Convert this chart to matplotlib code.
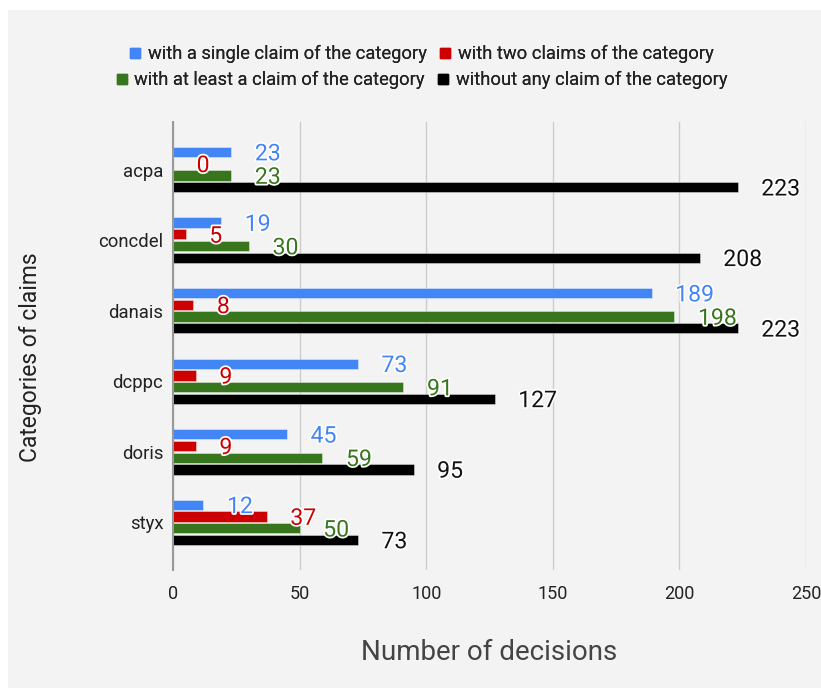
import matplotlib

matplotlib.use("Agg")
import matplotlib.pyplot as plt
import matplotlib.patheffects as pe
import numpy as np
from matplotlib.lines import Line2D
from matplotlib.patches import Rectangle

categories = ["acpa", "concdel", "danais", "dcppc", "doris", "styx"]
single_claim = [23, 19, 189, 73, 45, 12]
two_claims = [0, 5, 8, 9, 9, 37]
at_least_one = [23, 30, 198, 91, 59, 50]
without_claim = [223, 208, 223, 127, 95, 73]
series_names = [
    "with a single claim of the category",
    "with two claims of the category",
    "with at least a claim of the category",
    "without any claim of the category",
]
x_ticks = [0, 50, 100, 150, 200, 250]

BG = "#f3f3f3"
BAR_COLORS = ["#4285f4", "#cc0000", "#38761d", "#000000"]
LABEL_COLORS = ["#4285f4", "#cc0000", "#38761d", "#111111"]

plt.rcParams["font.family"] = ["Roboto", "DejaVu Sans"]

W, H = 821, 690
fig = plt.figure(figsize=(W / 100, H / 100), dpi=100, facecolor="white")
fig.patches.append(
    Rectangle((8 / W, 1 - 688 / H), 1 - 8 / W, (688 - 10) / H,
              transform=fig.transFigure, facecolor=BG, edgecolor="none", zorder=-5)
)

ax = fig.add_axes([173 / W, 1 - 570 / H, (806 - 173) / W, 448 / H])
ax.set_facecolor(BG)

series = [single_claim, two_claims, at_least_one, without_claim]
y = np.arange(len(categories))
step = 0.166
offsets = [-1.5 * step, -0.5 * step, 0.5 * step, 1.5 * step]
bar_h = 0.145

for vals, off, bc, lc in zip(series, offsets, BAR_COLORS, LABEL_COLORS):
    ax.barh(y + off, vals, height=bar_h, color=bc,
            edgecolor=(1, 1, 1, 0.45), linewidth=0.6, zorder=3)
    for yi, v in zip(y, vals):
        ax.annotate(str(v), (v, yi + off), xytext=(17, -1.3), textcoords="offset points",
                    ha="left", va="center", fontsize=16.6, color=lc, zorder=5,
                    path_effects=[pe.withStroke(linewidth=2.5, foreground="white")])

ax.set_xlim(0, 250)
ax.set_ylim(5.675, -0.675)
ax.set_xticks(x_ticks)
ax.set_yticks(y)
ax.set_yticklabels(categories)
ax.tick_params(axis="x", length=0, pad=11, labelsize=13, labelcolor="#222222")
ax.tick_params(axis="y", length=0, pad=7, labelsize=13.3, labelcolor="#222222")
ax.grid(axis="x", color="#cccccc", linewidth=1, zorder=0)
ax.set_axisbelow(True)
for side in ["top", "right", "bottom"]:
    ax.spines[side].set_visible(False)
ax.spines["left"].set_color("#999999")
ax.spines["left"].set_linewidth(1.5)
ax.spines["left"].set_zorder(4)

fig.text(489 / W, 1 - 653 / H, "Number of decisions", ha="center", va="center",
         fontsize=20, color="#444444")
fig.text(30 / W, 1 - 357 / H, "Categories of claims", ha="center", va="center",
         rotation=90, fontsize=16.5, color="#222222")

# two centred legend rows
handles = [Line2D([], [], linestyle="none", marker="s", markersize=7,
                  markerfacecolor=c, markeredgecolor=c) for c in BAR_COLORS]
rows = [([0, 1], 54), ([2, 3], 80)]
for idx, ypx in rows:
    leg = fig.legend([handles[i] for i in idx], [series_names[i] for i in idx],
                     loc="center", bbox_to_anchor=(422 / W, 1 - ypx / H), ncol=2,
                     frameon=False, fontsize=13.2, handlelength=0.6, handletextpad=0.4,
                     columnspacing=0.7, borderpad=0, labelcolor="#222222")
    fig.add_artist(leg)

fig.savefig("out.png", dpi=100, facecolor="white")
